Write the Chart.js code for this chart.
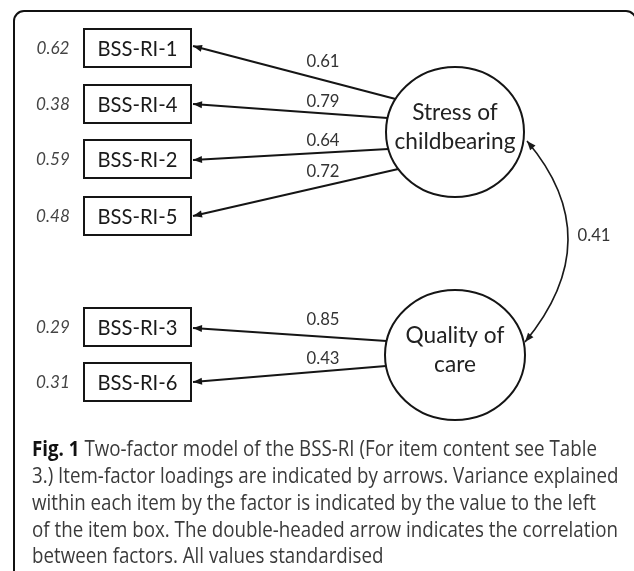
<!DOCTYPE html>
<html>
<head>
<meta charset="utf-8">
<script src="https://cdn.jsdelivr.net/npm/chart.js@4.4.1/dist/chart.umd.min.js"></script>
<style>
  html, body { margin: 0; padding: 0; background: #fff; }
  canvas { display: block; }
</style>
</head>
<body>
<canvas id="model" width="634" height="571"></canvas>
<script>
// values
const items = ['BSS-RI-1', 'BSS-RI-4', 'BSS-RI-2', 'BSS-RI-5', 'BSS-RI-3', 'BSS-RI-6'];
const variance = [0.62, 0.38, 0.59, 0.48, 0.29, 0.31];
const loadings = [0.61, 0.79, 0.64, 0.72, 0.85, 0.43];
const itemFactor = [0, 0, 0, 0, 1, 1];
const factors = [['Stress of', 'childbearing'], ['Quality of', 'care']];
const correlation = 0.41;
const captionBold = 'Fig. 1';
const captionLines = [
    ' Two-factor model of the BSS-RI (For item content see Table',
    '3.) Item-factor loadings are indicated by arrows. Variance explained',
    'within each item by the factor is indicated by the value to the left',
    'of the item box. The double-headed arrow indicates the correlation',
    'between factors. All values standardised'
];

// layout (figure coordinates, y down)
const box = { left: 84, right: 191, h: 38 };
const itemY = [48, 104, 159, 216, 327, 382];
const arrowFromY = [99, 118, 149, 169, 341, 366];
const arrowToY = [46, 104, 160, 216, 328, 382];
const labelY = [62, 102, 141, 172, 320, 359];
const factorPos = [{ x: 455, y: 132, rx: 69, ry: 65 }, { x: 455, y: 355, rx: 70, ry: 65 }];

function ellipseLeftX(f, y) {
    const t = (y - f.y) / f.ry;
    return f.x - f.rx * Math.sqrt(Math.max(0, 1 - t * t));
}

const loadingDatasets = loadings.map((v, i) => ({
    label: 'loading ' + v,
    data: [
        { x: ellipseLeftX(factorPos[itemFactor[i]], arrowFromY[i]), y: arrowFromY[i] },
        { x: box.right + 2, y: arrowToY[i] }
    ],
    showLine: true,
    borderColor: '#151515',
    borderWidth: 2,
    pointRadius: 0,
    fill: false
}));

function fitFont(ctx, text, width, style, family) {
    let size = 20;
    ctx.font = style + ' ' + size + 'px ' + family;
    size = size * width / ctx.measureText(text).width;
    return style + ' ' + size.toFixed(2) + 'px ' + family;
}

function arrowHead(ctx, tipX, tipY, fromX, fromY, len, half) {
    const a = Math.atan2(tipY - fromY, tipX - fromX);
    ctx.beginPath();
    ctx.moveTo(tipX, tipY);
    ctx.lineTo(tipX - len * Math.cos(a) + half * Math.sin(a), tipY - len * Math.sin(a) - half * Math.cos(a));
    ctx.lineTo(tipX - len * Math.cos(a) - half * Math.sin(a), tipY - len * Math.sin(a) + half * Math.cos(a));
    ctx.closePath();
    ctx.fill();
}

const diagramPlugin = {
    id: 'diagram',
    afterDatasetsDraw(chart) {
        const ctx = chart.ctx;
        const X = (v) => chart.scales.x.getPixelForValue(v);
        const Y = (v) => chart.scales.y.getPixelForValue(v);
        const family = 'Lato, "Open Sans", sans-serif';
        ctx.save();

        // frame
        ctx.strokeStyle = '#111';
        ctx.lineWidth = 2;
        ctx.beginPath();
        ctx.roundRect(X(14), Y(11), X(636) - X(14), Y(600) - Y(11), 10);
        ctx.stroke();

        // item boxes, variance values, arrowheads, loadings
        const itemFont = fitFont(ctx, 'BSS-RI-1', 80, '', family);
        const numFont = fitFont(ctx, '0.61', 33, '', family);
        const varFont = fitFont(ctx, '0.62', 33, 'italic', family);
        ctx.textAlign = 'center';
        ctx.textBaseline = 'middle';
        items.forEach((name, i) => {
            const top = itemY[i] - box.h / 2;
            ctx.lineWidth = 2;
            ctx.strokeStyle = '#151515';
            ctx.strokeRect(X(box.left), Y(top), X(box.right) - X(box.left), Y(top + box.h) - Y(top));
            ctx.fillStyle = '#1a1a1a';
            ctx.font = itemFont;
            ctx.fillText(name, X((box.left + box.right) / 2), Y(itemY[i] + 1));
            ctx.fillStyle = '#444';
            ctx.font = varFont;
            ctx.fillText(variance[i].toFixed(2), X(53), Y(itemY[i]));
            const pts = loadingDatasets[i].data;
            ctx.fillStyle = '#151515';
            arrowHead(ctx, X(pts[1].x), Y(pts[1].y), X(pts[0].x), Y(pts[0].y), 9, 3.5);
            ctx.fillStyle = '#333';
            ctx.font = numFont;
            ctx.fillText(loadings[i].toFixed(2), X(323), Y(labelY[i]));
        });

        // factors
        const factorFont = fitFont(ctx, 'childbearing', 121, '', family);
        factors.forEach((lines, k) => {
            const f = factorPos[k];
            ctx.lineWidth = 2;
            ctx.strokeStyle = '#151515';
            ctx.beginPath();
            ctx.ellipse(X(f.x), Y(f.y), f.rx, f.ry, 0, 0, Math.PI * 2);
            ctx.stroke();
            ctx.fillStyle = '#222';
            ctx.font = factorFont;
            ctx.textBaseline = 'alphabetic';
            ctx.fillText(lines[0], X(f.x), Y(f.y - 12));
            ctx.fillText(lines[1], X(f.x), Y(f.y + 17));
        });

        // correlation arc
        const p0 = { x: 527, y: 141 }, c = { x: 610, y: 239 }, p2 = { x: 525, y: 342 };
        ctx.lineWidth = 1.6;
        ctx.strokeStyle = '#1a1a1a';
        ctx.beginPath();
        ctx.moveTo(X(p0.x), Y(p0.y));
        ctx.quadraticCurveTo(X(c.x), Y(c.y), X(p2.x), Y(p2.y));
        ctx.stroke();
        ctx.fillStyle = '#1a1a1a';
        arrowHead(ctx, X(p0.x), Y(p0.y), X(c.x), Y(c.y), 9, 3.5);
        arrowHead(ctx, X(p2.x), Y(p2.y), X(c.x), Y(c.y), 9, 3.5);
        ctx.fillStyle = '#333';
        ctx.font = numFont;
        ctx.textBaseline = 'middle';
        ctx.fillText(correlation.toFixed(2), X(594), Y(236));

        // caption: larger type, condensed horizontally to the reference width
        const capFamily = '"Open Sans", Lato, sans-serif';
        const capSize = 21;
        ctx.textAlign = 'left';
        ctx.textBaseline = 'alphabetic';
        ctx.font = 'bold ' + capSize + 'px ' + capFamily;
        const bw = ctx.measureText(captionBold).width;
        ctx.font = capSize + 'px ' + capFamily;
        const rw = ctx.measureText(captionLines[0]).width;
        const sx = 565 / (bw + rw);
        const baselines = [456, 483, 510, 537, 563];
        ctx.translate(X(32), 0);
        ctx.scale(sx, 1);
        ctx.font = 'bold ' + capSize + 'px ' + capFamily;
        ctx.fillStyle = '#111';
        ctx.fillText(captionBold, 0, Y(baselines[0]));
        ctx.font = capSize + 'px ' + capFamily;
        ctx.fillStyle = '#3a3a3a';
        captionLines.forEach((line, i) => {
            ctx.fillText(line, i === 0 ? bw : 0, Y(baselines[i]));
        });
        ctx.restore();
    }
};

new Chart(document.getElementById('model'), {
    type: 'scatter',
    data: { datasets: loadingDatasets },
    options: {
        responsive: false,
        animation: false,
        devicePixelRatio: 1,
        layout: { padding: 0 },
        plugins: { legend: { display: false }, tooltip: { enabled: false } },
        scales: {
            x: { type: 'linear', min: 0, max: 634, display: false },
            y: { type: 'linear', min: 0, max: 571, reverse: true, display: false }
        }
    },
    plugins: [diagramPlugin]
});
</script>
</body>
</html>
